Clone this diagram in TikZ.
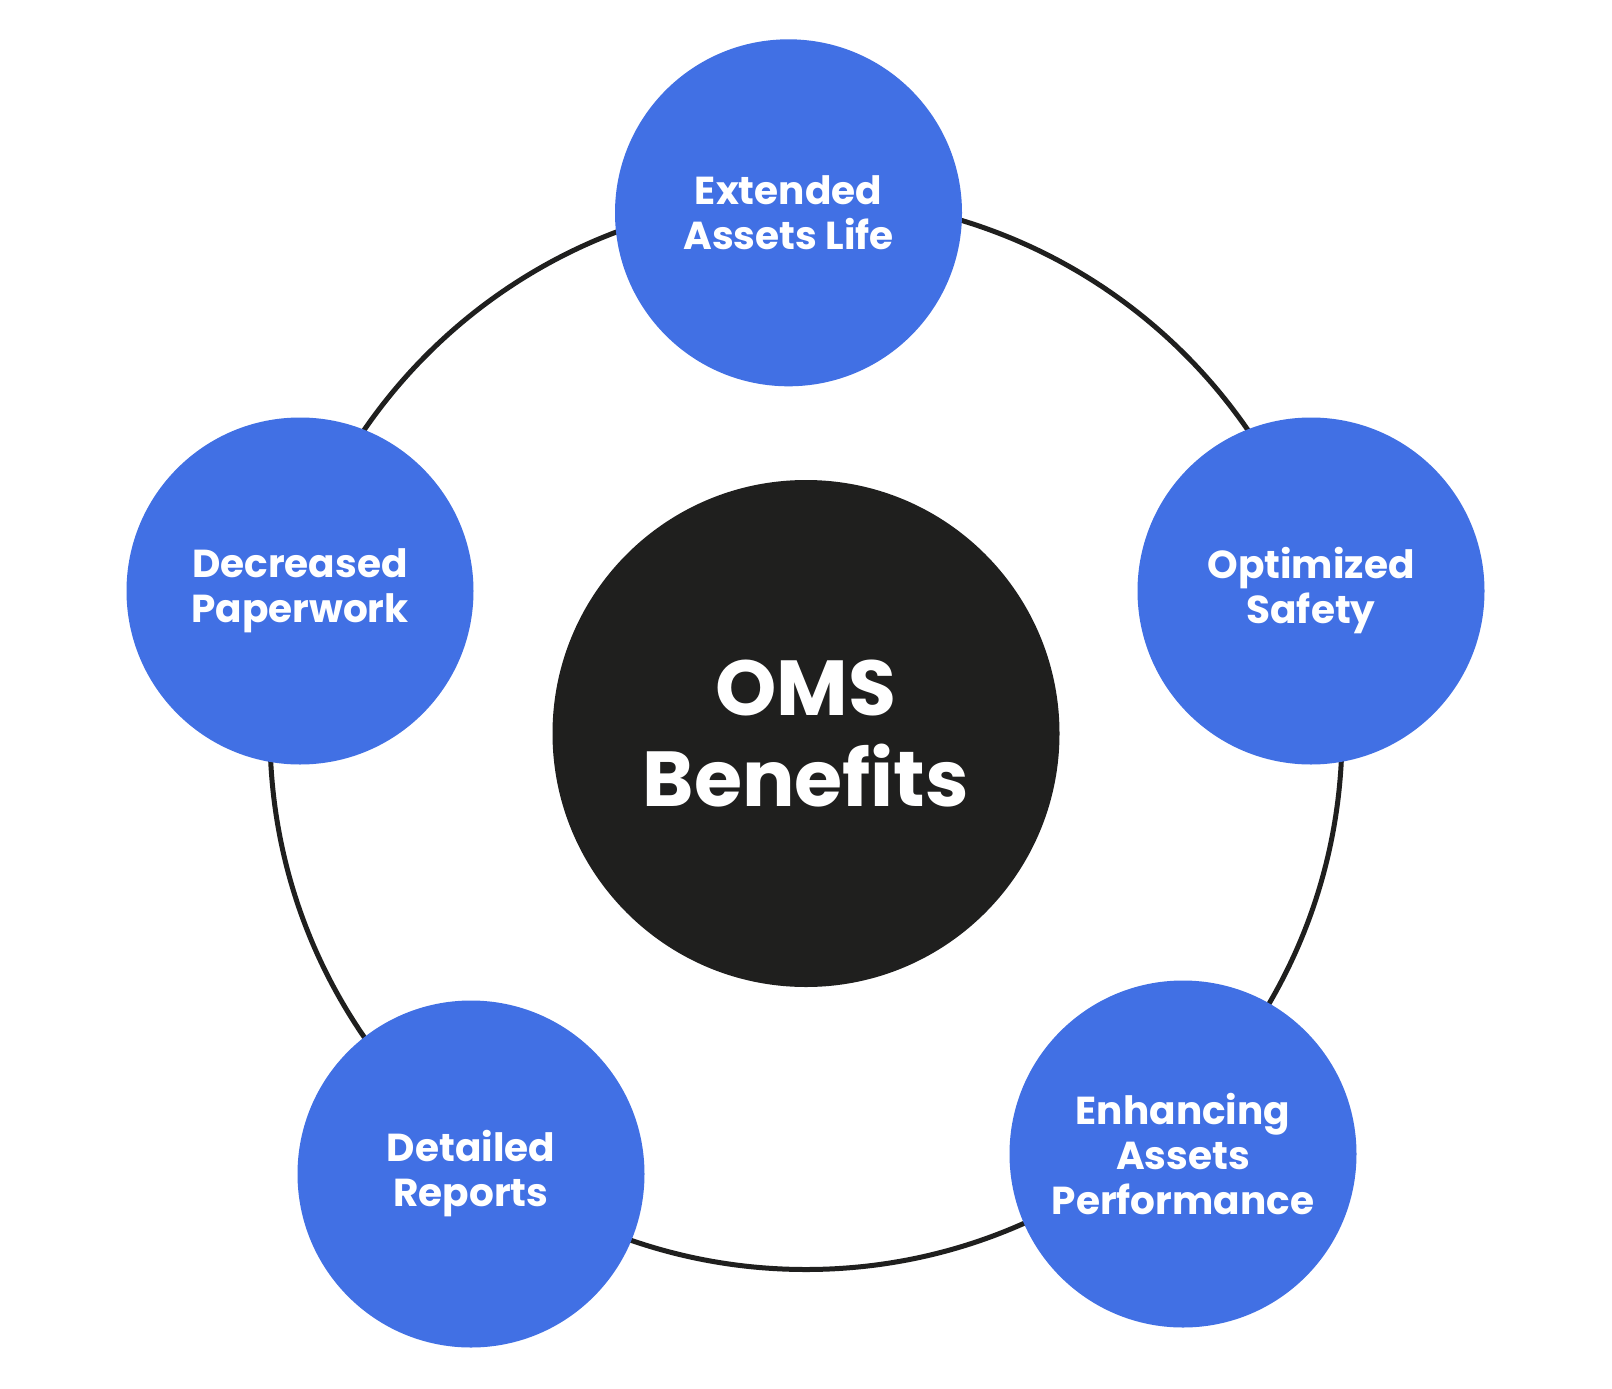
\documentclass[tikz,border=0pt]{standalone}
\usepackage{fontspec}
\setmainfont{Poppins}
\definecolor{blueC}{HTML}{4170E4}
\definecolor{darkC}{HTML}{1F1F1E}
\begin{document}
\begin{tikzpicture}[x=1pt,y=-1pt,
  benefit/.style={circle, fill=blueC, minimum size=347pt, inner sep=0pt, text=white, align=center,
    font=\fontsize{39}{45}\selectfont\bfseries},
  hub/.style={circle, fill=darkC, minimum size=507pt, inner sep=0pt, text=white, align=center,
    font=\fontsize{78}{91}\selectfont\bfseries},
  ring/.style={draw=darkC, line width=5pt}]
\useasboundingbox (0,0) rectangle (1612,1389);
\fill[white] (0,0) rectangle (1612,1389);
\coordinate (rc) at (806,733.5);
\draw[ring] (rc) circle[radius=536pt];
\node[hub] (hub) at (rc) {OMS\\Benefits};
\node[benefit] (top) at (788.5,212.8) {Extended\\Assets Life};
\node[benefit] (right) at (1311,591) {Optimized\\Safety};
\node[benefit] (left) at (300,591) {Decreased\\Paperwork};
\node[benefit] (br) at (1183,1154) {Enhancing\\Assets\\Performance};
\node[benefit] (bl) at (471,1174) {Detailed\\Reports};
\end{tikzpicture}
\end{document}
